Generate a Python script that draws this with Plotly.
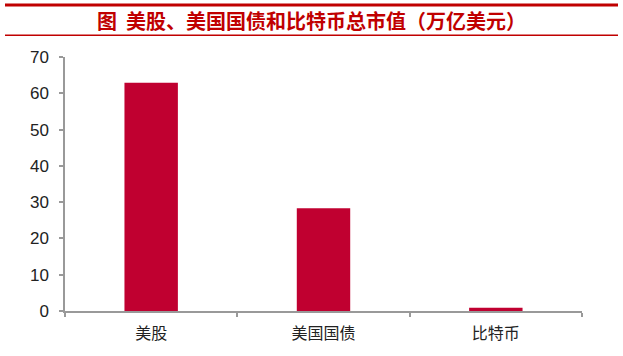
import plotly.graph_objects as go

categories = ["美股", "美国国债", "比特币"]
values = [62.9, 28.3, 0.9]
y_ticks = [0, 10, 20, 30, 40, 50, 60, 70]

W, H = 623, 356
L, R, T, B = 65, 41, 57, 43
pw, ph = W - L - R, H - T - B

def px2paper_x(px):
    return (px - L) / pw

def px2paper_y(py):
    return (H - B - py) / ph

fig = go.Figure()
fig.add_trace(go.Bar(
    x=categories, y=values, width=0.31,
    marker=dict(color="#C00030", line=dict(width=0)),
    hoverinfo="skip",
))

fig.update_layout(
    width=W, height=H,
    margin=dict(l=L, r=R, t=T, b=B),
    paper_bgcolor="white", plot_bgcolor="white",
    showlegend=False,
    title=dict(
        text="<b>图  美股、美国国债和比特币总市值（万亿美元）</b>",
        x=0.5, xanchor="center", y=1 - 22 / H, yanchor="middle",
        font=dict(family="Noto Sans CJK SC", size=20, color="#C00000"),
    ),
    xaxis=dict(
        type="category", range=[-0.5, 2.5],
        showline=True, linecolor="#999999", linewidth=1.5,
        ticks="outside", tickson="boundaries", ticklen=4, tickcolor="#999999", tickwidth=1.5,
        ticklabelstandoff=7,
        tickfont=dict(family="Noto Sans CJK SC", size=16, color="#222222"),
        showgrid=False, zeroline=False,
    ),
    yaxis=dict(
        range=[0, 70], tickvals=y_ticks,
        showline=True, linecolor="#999999", linewidth=1.5,
        ticks="outside", ticklen=4, tickcolor="#999999", tickwidth=1.5,
        ticklabelstandoff=7,
        tickfont=dict(family="Liberation Sans, Arial", size=17, color="#222222"),
        showgrid=False, zeroline=False,
    ),
    shapes=[
        dict(type="line", xref="paper", yref="paper",
             x0=px2paper_x(5), x1=px2paper_x(618), y0=px2paper_y(4.5), y1=px2paper_y(4.5),
             line=dict(color="#C00000", width=3)),
        dict(type="line", xref="paper", yref="paper",
             x0=px2paper_x(5), x1=px2paper_x(618), y0=px2paper_y(35), y1=px2paper_y(35),
             line=dict(color="#C00000", width=1.5)),
    ],
)

fig.write_html(
    "out.html",
    config={"displayModeBar": False},
    post_script="document.body.style.margin='0';document.body.style.overflow='hidden';",
)
